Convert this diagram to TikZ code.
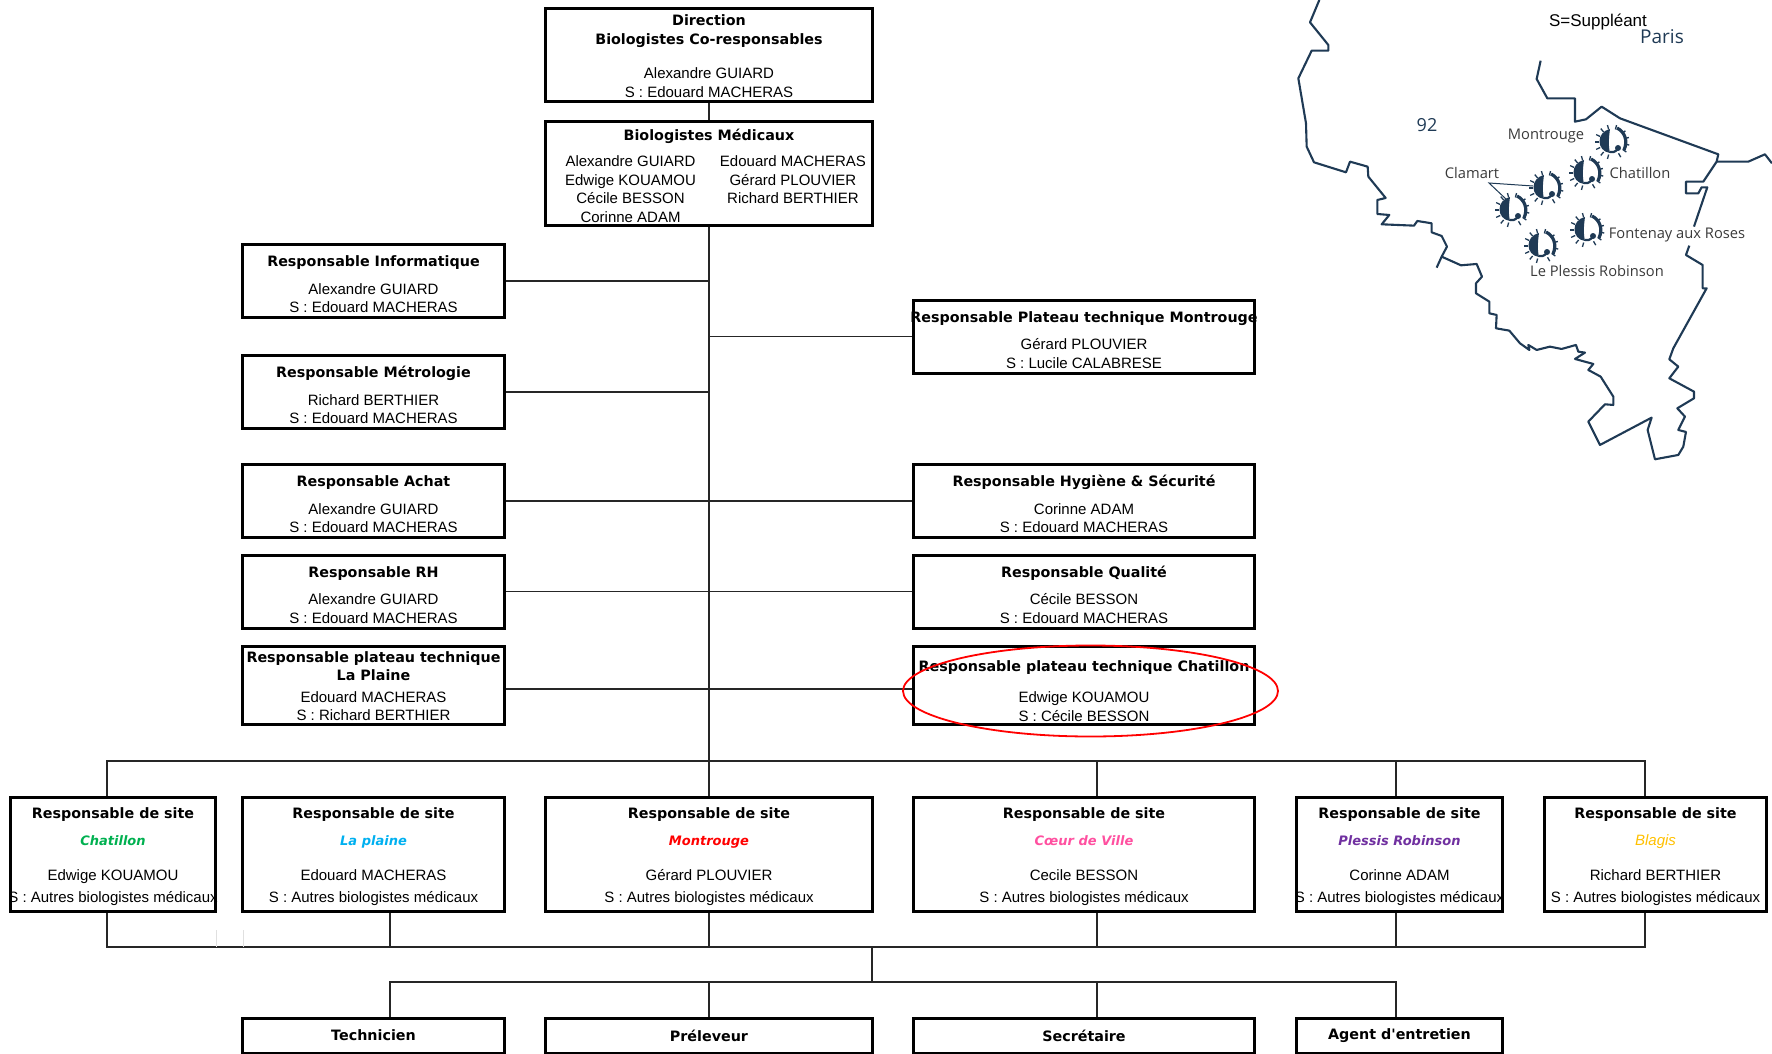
\documentclass[tikz,border=0pt]{standalone}
\usepackage{fontspec}
\setmainfont{Liberation Sans}
\newfontfamily\titlefam{DejaVu Sans}
\newfontfamily\mapfam{Open Sans}
\usetikzlibrary{shapes.geometric}
\definecolor{mapblue}{HTML}{1F3A55}
\definecolor{maptext}{HTML}{3A3A3A}
\definecolor{sitegreen}{RGB}{0,176,80}
\definecolor{sitesky}{RGB}{0,176,240}
\definecolor{sitepink}{RGB}{255,80,160}
\definecolor{sitepurple}{RGB}{112,48,160}
\definecolor{siteyellow}{RGB}{255,192,0}
\newcommand{\ttl}[1]{{\titlefam\bfseries\fontsize{14.3}{18}\selectfont #1}}
\newcommand{\ttlow}[2][17.7pt]{\rule{0pt}{#1}\ttl{#2}}
\newcommand{\sitename}[2]{{\color{#1}\titlefam\bfseries\itshape\fontsize{13}{18}\selectfont #2}}
\begin{document}
\begin{tikzpicture}[
  x = 1pt,
  y = -1pt,
  rectblock/.style = {rectangle, draw, line width = 3pt, inner sep = 0pt, align = flush center, font = \fontsize{15}{18.5}\selectfont},
  midblock/.style = {rectblock, minimum width = 327pt},
  leftblock/.style = {rectblock, minimum width = 262pt, minimum height = 73pt},
  rightblock/.style = {rectblock, minimum width = 341pt, minimum height = 73pt},
  siteblock/.style = {rectblock, minimum height = 114pt},
  footblock/.style = {rectblock, minimum height = 35pt},
  link/.style = {line width = 1.5pt, black!85},
  maptag/.style = {inner sep = 0pt, text = maptext, font = \mapfam\fontsize{14.7}{16}\selectfont},
  mapline/.style = {mapblue, line width = 2.1pt, line join = round},
  virus/.pic = {
    \fill[mapblue] (-2,-13) .. controls (-16,-10) and (-16,9) .. (-2,11) .. controls (-4,3) and (-3,-6) .. cycle;
    \draw[mapblue, line width = 2.2pt] (-2,10) .. controls (0,11) and (3,10) .. (6,7);
    \fill[mapblue] (6,6) circle (3);
    \draw[mapblue, line width = 3.2pt] (5,-14) .. controls (13,-10) and (16,-1) .. (12,8);
    \foreach \a in {105, 130, 155, 180, 205, 230, 255, 285, 320, 345, 10, 35, 60}
      \draw[mapblue, line width = 1.3pt] (\a:13) -- (\a:17.5);
  }
]
  \useasboundingbox (0,0) rectangle (1772,1054);

  % direction
  \node[midblock, minimum height = 93pt] (dir) at (709,55) {\ttlow[13.2pt]{Direction}\\\ttl{Biologistes Co-responsables}\\[16pt]Alexandre GUIARD\\S : Edouard MACHERAS};
  \node[midblock, minimum height = 103pt] (bio) at (709,173.5) {\ttlow[13pt]{Biologistes Médicaux}\\[9.4pt]%
    \hspace*{13pt}\begin{tabular}{@{}c@{\hspace{24pt}}c@{}}Alexandre GUIARD & Edouard MACHERAS\\Edwige KOUAMOU & Gérard PLOUVIER\\Cécile BESSON & Richard BERTHIER\\Corinne ADAM & \\[-8pt]\end{tabular}};

  % left column
  \node[leftblock] (info) at (373.5,281) {\ttlow{Responsable Informatique}\\[9pt]Alexandre GUIARD\\S : Edouard MACHERAS};
  \node[leftblock] (metro) at (373.5,392) {\ttlow{Responsable Métrologie}\\[9pt]Richard BERTHIER\\S : Edouard MACHERAS};
  \node[leftblock] (achat) at (373.5,501) {\ttlow{Responsable Achat}\\[9pt]Alexandre GUIARD\\S : Edouard MACHERAS};
  \node[leftblock] (rh) at (373.5,591.5) {\ttlow{Responsable RH}\\[9pt]Alexandre GUIARD\\S : Edouard MACHERAS};
  \node[leftblock, minimum height = 78pt] (plaine) at (373.5,685.5) {\ttlow[12.5pt]{Responsable plateau technique}\\\ttl{La Plaine}\\[3pt]Edouard MACHERAS\\S : Richard BERTHIER};

  % right column
  \node[rightblock] (pmon) at (1084,336.5) {\makebox[336pt]{\ttlow{Responsable Plateau technique Montrouge}}\\[9pt]Gérard PLOUVIER\\S : Lucile CALABRESE};
  \node[rightblock] (hyg) at (1084,501) {\ttlow{Responsable Hygiène \& Sécurité}\\[9pt]Corinne ADAM\\S : Edouard MACHERAS};
  \node[rightblock] (qual) at (1084,591.5) {\ttlow{Responsable Qualité}\\[9pt]Cécile BESSON\\S : Edouard MACHERAS};
  \node[rightblock, minimum height = 78pt] (pcha) at (1084,685.5) {\ttlow[22pt]{Responsable plateau technique Chatillon}\\[12.4pt]Edwige KOUAMOU\\S : Cécile BESSON};

  % sites
  \node[siteblock, minimum width = 205pt] (schat) at (113,854.5) {\ttlow[15.5pt]{Responsable de site}\\[8pt]\sitename{sitegreen}{Chatillon}\\[17pt]Edwige KOUAMOU\\[3pt]\makebox[200pt]{S : Autres biologistes médicaux}};
  \node[siteblock, minimum width = 262pt] (splai) at (373.5,854.5) {\ttlow[15.5pt]{Responsable de site}\\[8pt]\sitename{sitesky}{La plaine}\\[17pt]Edouard MACHERAS\\[3pt]S : Autres biologistes médicaux};
  \node[siteblock, minimum width = 327pt] (smon) at (709,854.5) {\ttlow[15.5pt]{Responsable de site}\\[8pt]\sitename{red}{Montrouge}\\[17pt]Gérard PLOUVIER\\[3pt]S : Autres biologistes médicaux};
  \node[siteblock, minimum width = 341pt] (scoe) at (1084,854.5) {\ttlow[15.5pt]{Responsable de site}\\[8pt]\sitename{sitepink}{Cœur de Ville}\\[17pt]Cecile BESSON\\[3pt]S : Autres biologistes médicaux};
  \node[siteblock, minimum width = 206pt] (sple) at (1399.5,854.5) {\ttlow[15.5pt]{Responsable de site}\\[8pt]\sitename{sitepurple}{Plessis Robinson}\\[17pt]Corinne ADAM\\[3pt]\makebox[200pt]{S : Autres biologistes médicaux}};
  \node[siteblock, minimum width = 222pt] (sbla) at (1655.5,854.5) {\ttlow[15.5pt]{Responsable de site}\\[8pt]{\color{siteyellow}\itshape Blagis}\\[17pt]Richard BERTHIER\\[3pt]S : Autres biologistes médicaux};

  % staff
  \node[footblock, minimum width = 262pt] (tech) at (373.5,1035.5) {\ttl{Technicien}};
  \node[footblock, minimum width = 327pt] (prel) at (709,1035.5) {\ttl{Préleveur}};
  \node[footblock, minimum width = 341pt] (secr) at (1084,1035.5) {\ttl{Secrétaire}};
  \node[footblock, minimum width = 206pt] (agen) at (1399.5,1035.5) {\ttl{Agent d'entretien}};

  % bus ends
  \coordinate (topl) at (107,761);
  \coordinate (topc) at (1097,761);
  \coordinate (topd) at (1396,761);
  \coordinate (topr) at (1645,761);
  \coordinate (lowl) at (107,947);
  \coordinate (lowb) at (390,947);
  \coordinate (lowc) at (1097,947);
  \coordinate (lowd) at (1396,947);
  \coordinate (lowr) at (1645,947);
  \coordinate (stem) at (872,947);
  \coordinate (stafl) at (390,982);
  \coordinate (stafm) at (872,982);
  \coordinate (stafc) at (1097,982);
  \coordinate (stafr) at (1396,982);
  \coordinate (faina) at (216,930);
  \coordinate (fainb) at (243,930);

  \draw[link] (dir.south) -- (bio.north);
  \draw[link] (bio.south) -- (smon.north);
  \draw[link] (info.east) -- (info.east -| bio.south);
  \draw[link] (metro.east) -- (metro.east -| bio.south);
  \draw[link] (pmon.west) -- (pmon.west -| bio.south);
  \draw[link] (achat.east) -- (hyg.west);
  \draw[link] (rh.east) -- (qual.west);
  \draw[link] ([yshift = -3.5pt]plaine.east) -- ([yshift = -3.5pt]pcha.west);

  \draw[link] (schat.north -| topl) -- (topl) -- (topr) -- (sbla.north -| topr);
  \draw[link] (topc) -- (scoe.north -| topc);
  \draw[link] (topd) -- (sple.north -| topd);

  \draw[link] (schat.south -| lowl) -- (lowl) -- (lowr) -- (sbla.south -| lowr);
  \draw[link] (splai.south -| lowb) -- (lowb);
  \draw[link] (smon.south) -- (smon.south |- lowl);
  \draw[link] (scoe.south -| lowc) -- (lowc);
  \draw[link] (sple.south -| lowd) -- (lowd);
  \draw[black!12, line width = .8pt] (faina) -- (faina |- lowl);
  \draw[black!12, line width = .8pt] (fainb) -- (fainb |- lowl);

  \draw[link] (stem) -- (stafm);
  \draw[link] (tech.north -| stafl) -- (stafl) -- (stafr) -- (agen.north -| stafr);
  \draw[link] (prel.north) -- (prel.north |- stafl);
  \draw[link] (secr.north -| stafc) -- (stafc);

  \node[draw = red, line width = 1.8pt, ellipse, minimum width = 375pt, minimum height = 91pt, inner sep = 0pt] (cible) at (1090.5,691) {};

  % map
  \begin{scope}[shift = {(1270,0)}, x = .3333pt, y = -.3333pt]
    \draw[mapline] (148,0) -- (120,67) -- (175,135) -- (175,152) -- (125,152) -- (85,235) -- (108,370) -- (110,440) -- (132,487) -- (228,517) -- (240,485) -- (293,500) -- (295,530) -- (347,594) -- (322,600) -- (322,642) -- (358,645) -- (335,673) -- (432,677) -- (442,663) -- (485,670) -- (485,697) -- (515,708) -- (531,740) -- (515,770) -- (500,803);
    \draw[mapline] (515,770) -- (573,796) -- (620,792) -- (636,830) -- (618,850) -- (618,880) -- (658,905) -- (658,940) -- (680,945) -- (678,985) -- (718,992) -- (750,1030) -- (778,1050) -- (775,1035) -- (800,1050) -- (840,1040) -- (875,1047) -- (918,1035) -- (925,1055) -- (945,1058) -- (915,1077) -- (970,1092) -- (955,1110) -- (992,1130) -- (1030,1190) -- (1030,1215) -- (1005,1213) -- (955,1265) -- (990,1335) -- (1145,1253) -- (1133,1290) -- (1155,1378) -- (1225,1365) -- (1240,1340) -- (1248,1296) -- (1225,1290) -- (1245,1250) -- (1222,1225) -- (1272,1195) -- (1272,1175) -- (1198,1135) -- (1225,1100) -- (1198,1078) -- (1210,1045) -- (1310,865) -- (1298,865) -- (1298,795) -- (1248,765) -- (1258,737);
    \draw[mapline] (1272,680) -- (1312,562) -- (1295,562) -- (1285,580) -- (1248,580) -- (1248,545) -- (1300,545) -- (1340,485) -- (1345,463) -- (1050,355) -- (995,320) -- (948,358) -- (915,365) -- (915,295) -- (832,295) -- (800,237) -- (812,182);
    \draw[mapline] (1340,485) -- (1435,485) -- (1485,463) -- (1506,490);
  \end{scope}

  \pic at (1612,142) {virus};
  \pic at (1586,173) {virus};
  \pic at (1546,188) {virus};
  \pic at (1512,210) {virus};
  \pic at (1587,230) {virus};
  \pic at (1541,246) {virus};

  \node[maptag] (mont) at (1546,136) {Montrouge};
  \node[maptag] (chat) at (1640,173) {Chatillon};
  \node[maptag] (clam) at (1472,173) {Clamart};
  \node[maptag] (font) at (1677,235) {Fontenay aux Roses};
  \node[maptag] (ples) at (1597,271) {Le Plessis Robinson};
  \node[maptag, text = mapblue, font = \mapfam\fontsize{19}{22}\selectfont] (pari) at (1662,37) {Paris};
  \node[maptag, text = mapblue, font = \mapfam\fontsize{18}{22}\selectfont] (dept) at (1427,125) {92};
  \node[inner sep = 0pt, font = \fontsize{17}{18}\selectfont] (supp) at (1598,22) {S=Suppléant};

  \coordinate (fork) at (1489,183);
  \coordinate (virb) at (1533,186);
  \coordinate (virc) at (1507,200);
  \draw[mapblue, line width = 1pt] (virb) -- (fork) -- (virc);
\end{tikzpicture}
\end{document}
